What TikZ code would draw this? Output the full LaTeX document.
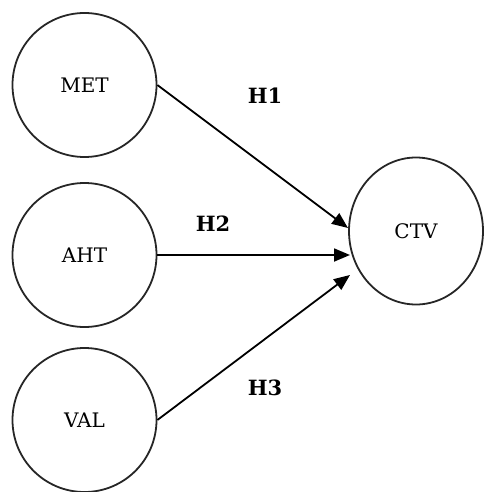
\documentclass[tikz,border=0pt]{standalone}
\usepackage{fontspec}
\setmainfont{DejaVu Serif}
\usetikzlibrary{arrows.meta,calc,shapes.geometric}
\begin{document}
\begin{tikzpicture}[x=1pt,y=-1pt,
  var/.style={draw=black!85,line width=1.8pt,circle,minimum size=144pt,inner sep=0pt,font=\fontsize{20}{24}\selectfont},
  outvar/.style={draw=black!85,line width=1.8pt,ellipse,minimum width=134pt,minimum height=147pt,inner sep=0pt,font=\fontsize{20}{24}\selectfont},
  hyp/.style={font=\bfseries\fontsize{21}{25}\selectfont,inner sep=0pt},
  link/.style={line width=1.8pt,-{Triangle[length=16pt,width=13pt]}}]
\useasboundingbox (0,0) rectangle (485,492);
\node[var] (met) at (84.5,85) {MET};
\node[var] (aht) at (84.5,255) {AHT};
\node[var] (val) at (84.5,420) {VAL};
\node[outvar] (ctv) at (416,231) {CTV};
\coordinate (t1) at ($(ctv.center)+(-68,-3)$);
\coordinate (t2) at ($(ctv.center)+(-66,24)$);
\coordinate (t3) at ($(ctv.center)+(-66,44)$);
\draw[link] (met.east) -- (t1);
\draw[link] (aht.east) -- (t2);
\draw[link] (val.east) -- (t3);
\node[hyp] (h1) at (265,96) {H1};
\node[hyp] (h2) at (213,224) {H2};
\node[hyp] (h3) at (265,388) {H3};
\end{tikzpicture}
\end{document}
